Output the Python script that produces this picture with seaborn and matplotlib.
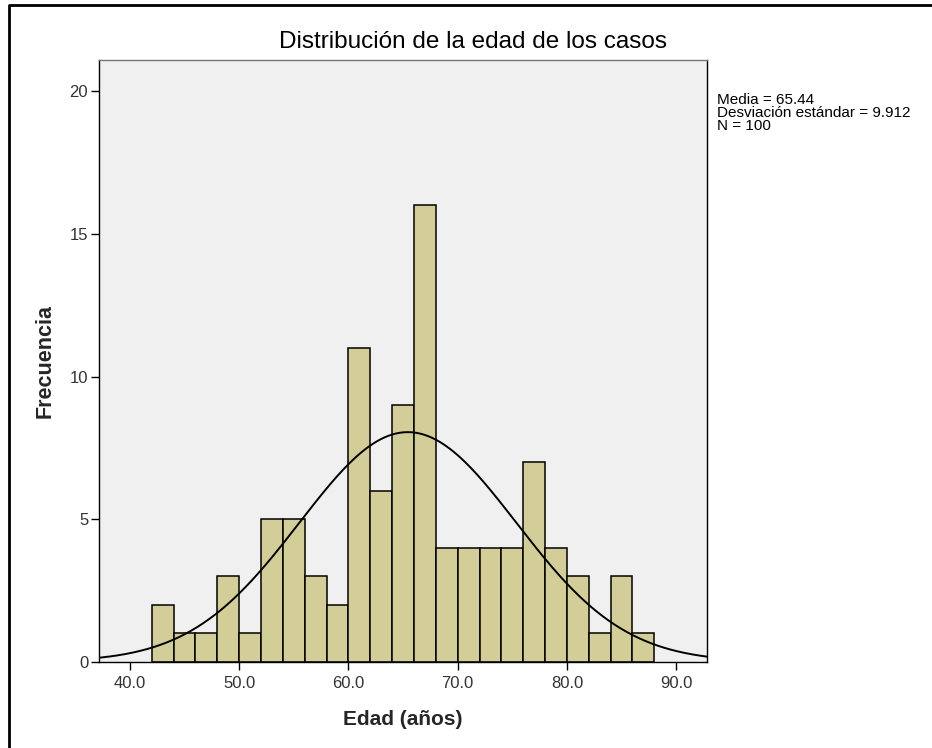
import numpy as np
import pandas as pd
import seaborn as sns
import matplotlib.pyplot as plt
from matplotlib.lines import Line2D
from matplotlib.ticker import FormatStrFormatter

# Data (bin width 2, from 42 to 88)
bin_start = 42
bin_width = 2
counts = [2, 1, 1, 3, 1, 5, 5, 3, 2, 11, 6, 9, 16, 4, 4, 4, 4, 7, 4, 3, 1, 3, 1]
media = 65.44
desv = 9.912
n_total = 100

x_ticks = [40, 50, 60, 70, 80, 90]
y_ticks = [0, 5, 10, 15, 20]

bin_end = bin_start + bin_width * len(counts)
centers = bin_start + bin_width * (np.arange(len(counts)) + 0.5)
df = pd.DataFrame({"edad": centers, "n": counts})

sns.set_theme(style="white")
plt.rcParams["font.family"] = ["Liberation Sans", "DejaVu Sans"]

fig = plt.figure(figsize=(9.32, 7.48), dpi=100)
ax = fig.add_axes([0.1066, 0.1154, 0.6517, 0.8044])
ax.set_facecolor("#f0f0f0")

sns.histplot(data=df, x="edad", weights="n", binwidth=bin_width,
             binrange=(bin_start, bin_end), ax=ax,
             color="#d3ce97", alpha=1, edgecolor="black", linewidth=1.1)

# normal curve scaled to frequency
xs = np.linspace(37.2, 92.8, 300)
ys = n_total * bin_width * np.exp(-0.5 * ((xs - media) / desv) ** 2) / (desv * np.sqrt(2 * np.pi))
sns.lineplot(x=xs, y=ys, ax=ax, color="black", linewidth=1.4)

ax.set_xlim(37.2, 92.8)
ax.set_ylim(0, 21.1)
ax.set_xticks(x_ticks)
ax.set_yticks(y_ticks)
ax.xaxis.set_major_formatter(FormatStrFormatter("%.1f"))
ax.tick_params(axis="both", direction="out", length=6, width=1, color="black",
               labelsize=12, labelcolor="#333333", pad=2)
ax.tick_params(axis="x", pad=4)
ax.tick_params(bottom=True, left=True)
for s in ax.spines.values():
    s.set_color("black")
    s.set_linewidth(1)
ax.spines["top"].set_color("#777777")

ax.set_xlabel("Edad (años)", fontsize=15, fontweight="bold", labelpad=14)
ax.set_ylabel("Frecuencia", fontsize=15.5, fontweight="bold", labelpad=10)

fig.text(473 / 932, 1 - 42 / 748, "Distribución de la edad de los casos", ha="center",
         va="center", fontsize=17.5, color="black")

fig.text(717 / 932, 1 - 93 / 748,
         "Media = %.2f\nDesviación estándar = %.3f\nN = %d" % (media, desv, n_total),
         ha="left", va="top", fontsize=11, linespacing=0.9, color="black")

# outer frame (left and top edges visible)
fx = 9 / 932
fy = 1 - 5 / 748
fig.add_artist(Line2D([fx, fx, 1], [0, fy, fy], transform=fig.transFigure,
                      color="black", linewidth=2))

fig.savefig("out.png", dpi=100)
